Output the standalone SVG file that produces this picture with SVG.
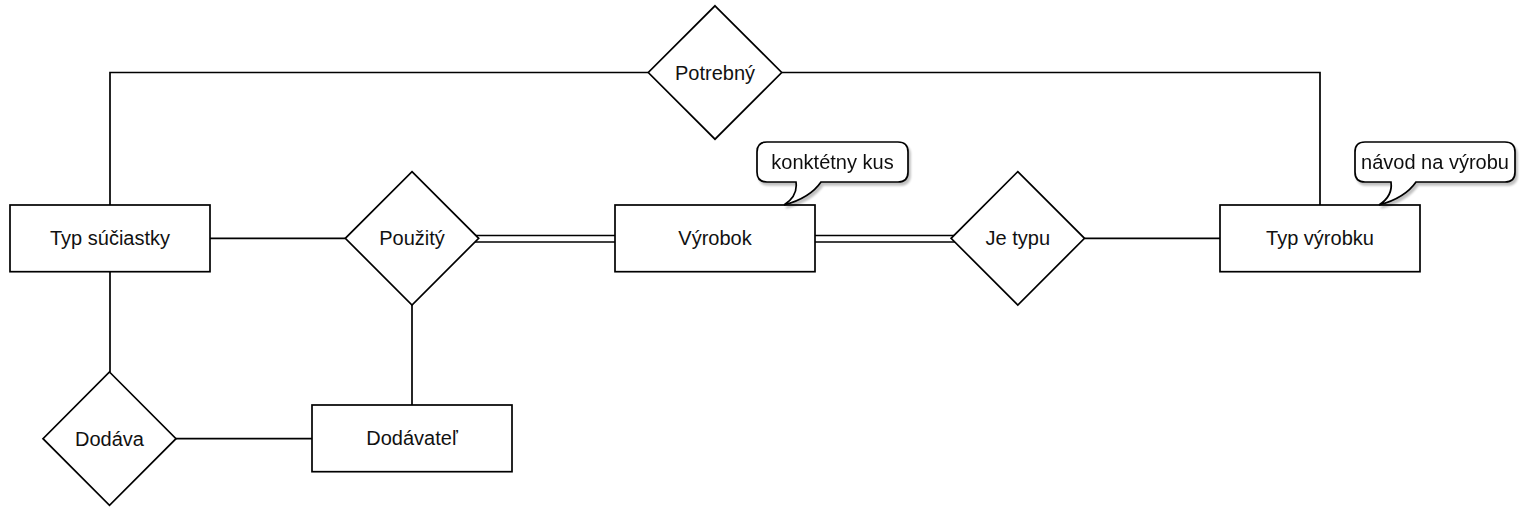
<svg xmlns="http://www.w3.org/2000/svg" width="1523" height="508" viewBox="0 0 1523 508">
  <defs>
    <filter id="shadow" x="-10%" y="-10%" width="130%" height="140%">
      <feOffset in="SourceAlpha" dx="2" dy="3" result="off"/>
      <feGaussianBlur in="off" stdDeviation="1" result="blur"/>
      <feComponentTransfer in="blur" result="soft">
        <feFuncA type="linear" slope="0.25"/>
      </feComponentTransfer>
      <feMerge>
        <feMergeNode in="soft"/>
        <feMergeNode in="SourceGraphic"/>
      </feMerge>
    </filter>
  </defs>
  <style>
    .shape { fill: #ffffff; stroke: #000000; stroke-width: 1.7; }
    .edge { fill: none; stroke: #000000; stroke-width: 1.7; }
    .link-outer { fill: none; stroke: #000000; stroke-width: 8; }
    .link-inner { fill: none; stroke: #ffffff; stroke-width: 5; }
    .label { font-family: "Liberation Sans", Arial, Helvetica, sans-serif; font-size: 20px; fill: #111111; text-anchor: middle; dominant-baseline: central; }
  </style>
  <rect width="1523" height="508" fill="#ffffff"/>

  <!-- relationship lines -->
  <g id="connectors">
    <polyline class="edge" points="110,205 110,72.5 648.3,72.5"/>
    <polyline class="edge" points="781.7,72.5 1320,72.5 1320,205"/>
    <line class="edge" x1="210" y1="238.3" x2="345.3" y2="238.3"/>
    <line class="edge" x1="412" y1="305" x2="412" y2="405"/>
    <line class="edge" x1="110" y1="271.7" x2="110" y2="372"/>
    <line class="edge" x1="176" y1="438.7" x2="312" y2="438.7"/>
    <line class="edge" x1="1084.5" y1="238.3" x2="1220" y2="238.3"/>
    <!-- total participation: double lines -->
    <line class="link-outer" x1="470" y1="238.8" x2="615" y2="238.8"/>
    <line class="link-inner" x1="470" y1="238.8" x2="615" y2="238.8"/>
    <line class="link-outer" x1="815" y1="238.8" x2="960" y2="238.8"/>
    <line class="link-inner" x1="815" y1="238.8" x2="960" y2="238.8"/>
  </g>

  <!-- entities -->
  <g id="typ-suciastky">
    <rect class="shape" x="10" y="205" width="200" height="66.7"/>
    <text class="label" x="110" y="238.3">Typ súčiastky</text>
  </g>
  <g id="vyrobok">
    <rect class="shape" x="615" y="205" width="200" height="66.7"/>
    <text class="label" x="715" y="238.3">Výrobok</text>
  </g>
  <g id="typ-vyrobku">
    <rect class="shape" x="1220" y="205" width="200" height="66.7"/>
    <text class="label" x="1320" y="238.3">Typ výrobku</text>
  </g>
  <g id="dodavatel">
    <rect class="shape" x="312" y="405" width="200" height="66.7"/>
    <text class="label" x="412" y="438.3">Dodávateľ</text>
  </g>

  <!-- relationships -->
  <g id="potrebny">
    <polygon class="shape" points="715,5.8 781.7,72.5 715,139.2 648.3,72.5"/>
    <text class="label" x="715" y="72.5">Potrebný</text>
  </g>
  <g id="pouzity">
    <polygon class="shape" points="412,171.6 478.7,238.3 412,305 345.3,238.3"/>
    <text class="label" x="412" y="238.3">Použitý</text>
  </g>
  <g id="je-typu">
    <polygon class="shape" points="1017.8,171.6 1084.5,238.3 1017.8,305 951.1,238.3"/>
    <text class="label" x="1017.8" y="238.3">Je typu</text>
  </g>
  <g id="dodava">
    <polygon class="shape" points="109.5,372 176,438.7 109.5,505.3 43,438.7"/>
    <text class="label" x="109.5" y="438.7">Dodáva</text>
  </g>

  <!-- notes -->
  <g id="note-vyrobok" filter="url(#shadow)">
    <path class="shape" d="M767,142 H898 Q908,142 908,152 V172 Q908,182 898,182 H821 Q810,198 784,205 Q798,196 796,182 H767 Q757,182 757,172 V152 Q757,142 767,142 Z"/>
    <text class="label" x="832.5" y="162">konktétny kus</text>
  </g>
  <g id="note-typ-vyrobku" filter="url(#shadow)">
    <path class="shape" d="M1365,142 H1505 Q1515,142 1515,152 V172 Q1515,182 1505,182 H1416 Q1405,198 1379,205 Q1393,196 1391,182 H1365 Q1355,182 1355,172 V152 Q1355,142 1365,142 Z"/>
    <text class="label" x="1435" y="162">návod na výrobu</text>
  </g>
</svg>
